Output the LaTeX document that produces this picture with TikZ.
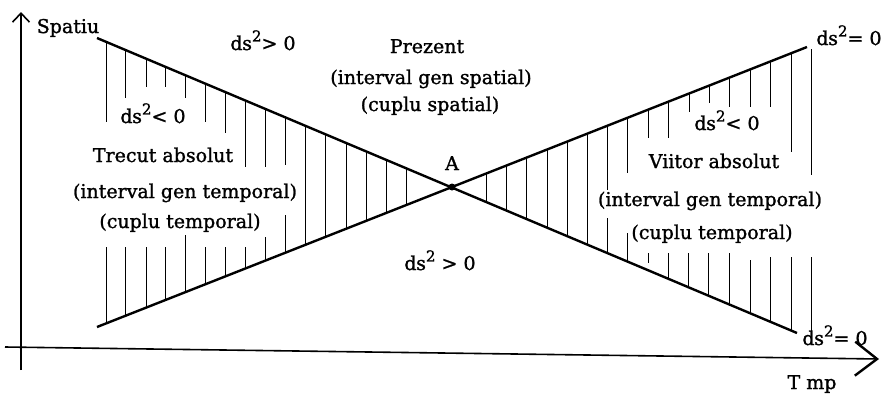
\documentclass[tikz,border=0pt]{standalone}
\usepackage{fontspec}
\setmainfont{DejaVu Serif}
\newfontfamily\lblfont[FakeBold=1.3]{DejaVu Serif}
\usetikzlibrary{arrows.meta}
\newcommand\dsq{d\kern-0.02em s\raisebox{0.45em}{\fontsize{15}{15}\selectfont 2}}
\newcommand\LoneY[1]{38+0.42143*(#1-97)}
\newcommand\LtwoY[1]{327-0.39437*(#1-97)}
\begin{document}
\begin{tikzpicture}[x=1pt,y=-1pt,
  lbl/.style={inner sep=0pt, anchor=base, font=\lblfont\fontsize{19}{22}\selectfont},
  cone/.style={line width=2.4pt},
  axisline/.style={line width=1.6pt},
  hatch/.style={line width=0.9pt}]
\useasboundingbox (0,0) rectangle (885,394);
% key points
\coordinate (l1a) at (97,38);  \coordinate (l1b) at (797,333);
\coordinate (l2a) at (97,327); \coordinate (l2b) at (807,47);
\coordinate (A) at (452,187);
\coordinate (v0) at (21,370);  \coordinate (v1) at (21,12);
\coordinate (h0) at (5,347);   \coordinate (h1) at (879,359);
% axes
\draw[axisline,-{Straight Barb[length=9pt,width=17pt,line width=1.6pt]}] (v0) -- (v1);
\draw[axisline,-{Straight Barb[length=22pt,width=34pt,line width=2.4pt]}] (h0) -- (h1);
% cone lines
\draw[cone] (l1a) -- (l1b);
\draw[cone] (l2a) -- (l2b);
\fill (A) circle (3.5);
% left hatching: top segments from upper line
\foreach \hx/\hy in {106/122,125/98,146/87,165/87,185/98,205/122,225/133,245/167,265/167,285/165}
  \draw[hatch] (\hx,{\LoneY{\hx}}) -- (\hx,\hy);
% left hatching: bottom segments to lower line
\foreach \hx/\hy in {106/247,125/247,146/247,165/247,185/235,205/247,225/247,245/247,265/237,285/215}
  \draw[hatch] (\hx,\hy) -- (\hx,{\LtwoY{\hx}});
% left hatching: full
\foreach \hx in {305,325,346,366,386,406}
  \draw[hatch] (\hx,{\LoneY{\hx}}) -- (\hx,{\LtwoY{\hx}});
% right hatching: full
\foreach \hx in {486,506,526,547,567,587}
  \draw[hatch] (\hx,{\LtwoY{\hx}}) -- (\hx,{\LoneY{\hx}});
% right hatching: top segments from lower-left/upper-right line
\foreach \hx/\hy in {607/190,627/173,648/138,668/138,689/112,709/103,729/107,750/107,770/107,791/152}
  \draw[hatch] (\hx,{\LtwoY{\hx}}) -- (\hx,\hy);
\draw[hatch] (811,49) -- (811,175);
% right hatching: bottom segments to the other line
\foreach \hx/\hy in {607/218,627/233,668/253,688/253,708/253,729/253,750/260,770/257,791/257}
  \draw[hatch] (\hx,\hy) -- (\hx,{\LoneY{\hx}});
\draw[hatch] (648,253) -- (648,263);
\draw[hatch] (811,257) -- (811,333);
% labels
\node[lbl] (spatiu) at (68,33) {Spatiu};
\node[lbl] (gtop) at (263,50) {\dsq> 0};
\node[lbl] (prez) at (427,53) {Prezent};
\node[lbl] (prez2) at (431,84) {(interval gen spatial)};
\node[lbl] (prez3) at (430,111) {(cuplu spatial)};
\node[lbl] (Alab) at (452,170) {A};
\node[lbl] (lneg) at (153,123) {\dsq< 0};
\node[lbl] (trec) at (163,162) {Trecut absolut};
\node[lbl] (trec2) at (185,198) {(interval gen temporal)};
\node[lbl] (trec3) at (180,228) {(cuplu temporal)};
\node[lbl] (gbot) at (440,270) {\dsq\ > 0};
\node[lbl] (rneg) at (727,130) {\dsq< 0};
\node[lbl] (viit) at (714,168) {Viitor absolut};
\node[lbl] (viit2) at (710,206) {(interval gen temporal)};
\node[lbl] (viit3) at (712,239) {(cuplu temporal)};
\node[lbl] (ztop) at (849,45) {\dsq= 0};
\node[lbl] (zbot) at (835,345) {\dsq= 0};
\node[lbl] (tmp) at (812,389) {T mp};
\end{tikzpicture}
\end{document}
